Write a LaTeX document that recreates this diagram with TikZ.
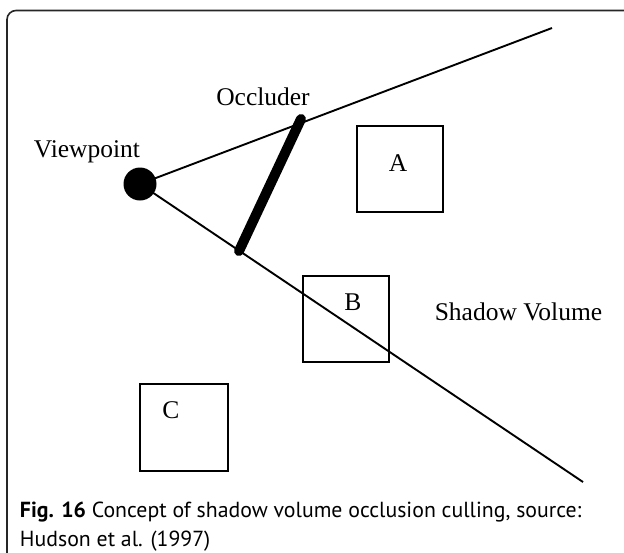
\documentclass[tikz,border=0pt]{standalone}
\usepackage{fontspec}
\setmainfont{Liberation Serif}
\newfontfamily\capfont{PT Sans}
\usetikzlibrary{calc}

\begin{document}
\begin{tikzpicture}[x=1pt, y=-1pt, line width=1.9pt,
    lbl/.style={font=\fontsize{25.5}{30}\selectfont, inner sep=0, anchor=base},
    obj/.style={draw, rectangle, minimum width=86pt, minimum height=86pt, inner sep=0},
    captext/.style={font=\capfont\fontsize{21.8}{29}\selectfont, inner sep=0, anchor=base west}]
    \clip (0,0) rectangle (624,552);
    % frame, cut off at the right and at the bottom
    \draw[line width=1.6pt, black!85, rounded corners=9pt] (7,10.5) rectangle (640,570);

    \node[circle, fill, minimum size=33pt, inner sep=0] (vp) at (140,184) {};
    \node[lbl] (vplbl) at (87,157) {Viewpoint};
    \coordinate (rayup) at (552,28);
    \coordinate (raydown) at (583,482);
    \draw (vp.center) -- (rayup);
    \draw (vp.center) -- (raydown);

    \coordinate (occtop) at (301,119);
    \coordinate (occbot) at (239,251);
    \draw[line width=10pt, line cap=round] (occbot) -- (occtop);
    \node[lbl] (occlbl) at (263,105) {Occluder};

    \node[obj] (boxA) at (400,169) {};
    \node[obj] (boxB) at (346,319) {};
    \node[obj, minimum width=88pt, minimum height=87pt] (boxC) at (184,427.5) {};
    \node[lbl] (lblA) at (398,171) {A};
    \node[lbl] (lblB) at (353,310) {B};
    \node[lbl] (lblC) at (171,418) {C};
    \node[lbl] (shadow) at (518.5,320) {Shadow Volume};

    \node[captext] (cap1) at (19,517) {\textbf{Fig. 16} Concept of shadow volume occlusion culling, source:};
    \node[captext] (cap2) at (19,546) {Hudson et al. (1997)};
\end{tikzpicture}
\end{document}
